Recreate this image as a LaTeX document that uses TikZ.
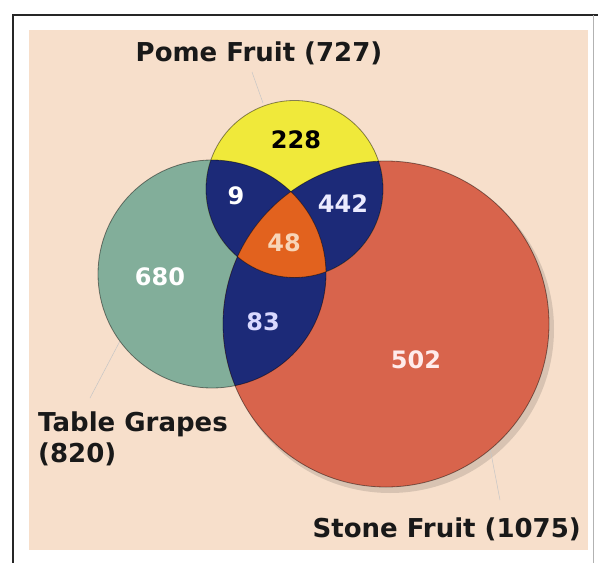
\documentclass[tikz,border=0pt]{standalone}
\usepackage{fontspec}
\setmainfont{DejaVu Sans}
\usetikzlibrary{calc}
\definecolor{peach}{HTML}{F7DFCB}
\definecolor{yellowc}{HTML}{F0E93A}
\definecolor{greenc}{HTML}{82AE9A}
\definecolor{redc}{HTML}{D8644C}
\definecolor{navyc}{HTML}{1C2A78}
\definecolor{orangec}{HTML}{E2621E}
\begin{document}
\begin{tikzpicture}[x=1pt,y=-1pt,
  lbl/.style={font=\fontsize{26}{31}\selectfont\bfseries, inner sep=0pt, text=black!90},
  num/.style={font=\fontsize{24}{29}\selectfont\bfseries, inner sep=0pt},
  edge/.style={draw=black, draw opacity=0.45, line width=0.8pt},
  leader/.style={draw=gray!45, line width=0.5pt}]
\useasboundingbox (0,0) rectangle (598,563);
\fill[white] (0,0) rectangle (598,563);
\fill[peach] (29,30) rectangle (588,550);
\draw[black!85, line width=2.5pt] (13,563) -- (13,15) -- (598,15);
\draw[gray!60, line width=0.8pt] (593,15) -- (593,563);
% circle centres
\coordinate (Y) at (294.5,189);
\coordinate (G) at (212,274);
\coordinate (R) at (386,324);
% shadow of the stone-fruit circle
\fill[black, opacity=0.12] ($(R)+(4,5)$) circle[radius=164pt];
% leaders (behind the circles)
\coordinate (pomefoot) at (252,72);
\coordinate (pometip) at (263,103);
\coordinate (grapesfoot) at (90,398);
\coordinate (grapestip) at (120,341);
\coordinate (stonefoot) at (500,500);
\coordinate (stonetip) at (490,448);
\draw[leader] (pomefoot) -- (pometip);
\draw[leader] (grapesfoot) -- (grapestip);
\draw[leader] (stonefoot) -- (stonetip);
% base circles
\fill[greenc] (G) circle[radius=114pt];
\fill[redc] (R) circle[radius=163pt];
\fill[yellowc] (Y) circle[radius=88.5pt];
% pairwise overlaps
\begin{scope}
  \clip (Y) circle[radius=88.5pt];
  \fill[navyc] (G) circle[radius=114pt];
  \fill[navyc] (R) circle[radius=163pt];
\end{scope}
\begin{scope}
  \clip (G) circle[radius=114pt];
  \fill[navyc] (R) circle[radius=163pt];
  \clip (Y) circle[radius=88.5pt];
  \fill[orangec] (R) circle[radius=163pt];
\end{scope}
% outlines
\draw[edge] (G) circle[radius=114pt];
\draw[edge] (R) circle[radius=163pt];
\draw[edge] (Y) circle[radius=88.5pt];
% labels
\node[lbl, anchor=base] (pome) at (259,61) {Pome Fruit (727)};
\node[lbl, anchor=north west, align=left] (grapes) at (38,412) {Table Grapes\\(820)};
\node[lbl, anchor=base east] (stone) at (581,537) {Stone Fruit (1075)};
% region numbers
\node[num, text=black] (n228) at (296,140) {228};
\node[num, text=white] (n9) at (236,196) {9};
\node[num, text=white!92!blue] (n442) at (343,204) {442};
\node[num, text=peach!90!orange] (n48) at (284,243) {48};
\node[num, text=white] (n680) at (160,277) {680};
\node[num, text=white!85!blue] (n83) at (263,322) {83};
\node[num, text=white!92!red] (n502) at (416,360) {502};
\end{tikzpicture}
\end{document}
